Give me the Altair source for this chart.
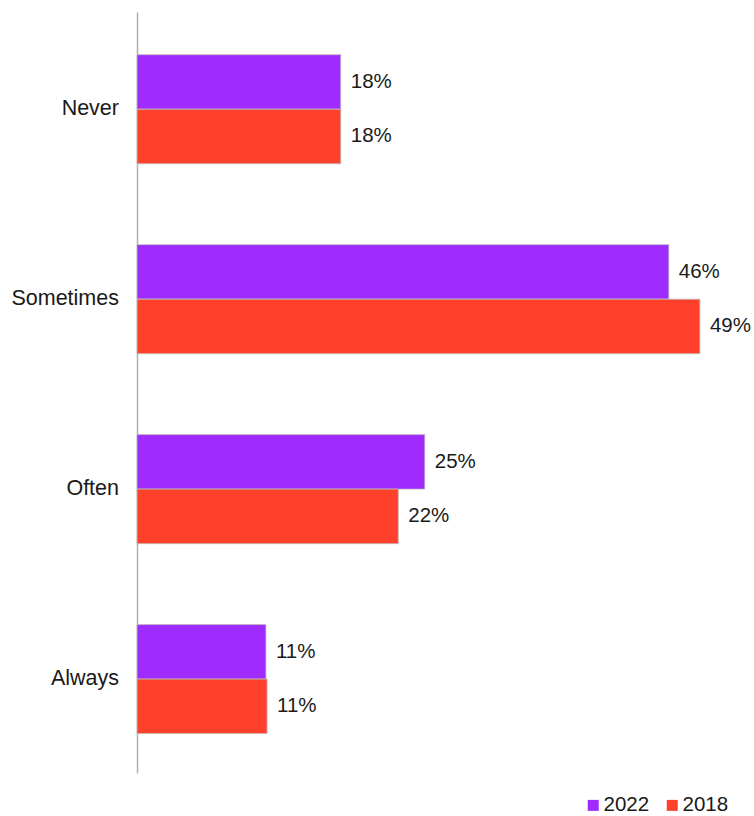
import altair as alt
import pandas as pd

categories = ["Never", "Sometimes", "Often", "Always"]
years = ["2022", "2018"]
values_2022 = [17.7, 46.2, 25.0, 11.2]
values_2018 = [17.7, 48.9, 22.7, 11.3]
labels_2022 = ["18%", "46%", "25%", "11%"]
labels_2018 = ["18%", "49%", "22%", "11%"]
colors = ["#A02BFF", "#FF412C"]

rows = []
for c, v, l in zip(categories, values_2022, labels_2022):
    rows.append({"category": c, "year": "2022", "value": v, "label": l})
for c, v, l in zip(categories, values_2018, labels_2018):
    rows.append({"category": c, "year": "2018", "value": v, "label": l})
df = pd.DataFrame(rows)

FONT = "Liberation Sans"

y_enc = alt.Y(
    "category:N",
    sort=categories,
    title=None,
    scale=alt.Scale(paddingInner=0.426, paddingOuter=0.216, align=0.52),
    axis=alt.Axis(
        ticks=False,
        grid=False,
        domainColor="#B0B0B0",
        domainWidth=1.5,
        labelFont=FONT,
        labelFontSize=21.5,
        labelColor="#1a1a1a",
        labelPadding=18.5,
    ),
)
yoff = alt.YOffset("year:N", sort=years, scale=alt.Scale(domain=years, paddingInner=0, paddingOuter=0))
x_enc = alt.X("value:Q", title=None, scale=alt.Scale(domain=[0, 53.6], nice=False, zero=True), axis=None)

bars = alt.Chart(df).mark_bar(stroke="#BBBBBB", strokeWidth=0.8).encode(
    x=x_enc,
    y=y_enc,
    yOffset=yoff,
    color=alt.Color(
        "year:N",
        sort=years,
        scale=alt.Scale(domain=years, range=colors),
        legend=alt.Legend(
            title=None,
            orient="none",
            direction="horizontal",
            legendX=446,
            legendY=783,
            symbolType="square",
            symbolSize=121,
            symbolStrokeWidth=0,
            labelFont=FONT,
            labelFontSize=20.5,
            labelColor="#1a1a1a",
            labelOffset=0,
            columnPadding=12,
            padding=0,
            symbolOffset=0,
        ),
    ),
)

text = alt.Chart(df).mark_text(
    align="left", baseline="middle", dx=10, font=FONT, fontSize=20.5, color="#1a1a1a"
).encode(
    x=x_enc,
    y=alt.Y("category:N", sort=categories),
    yOffset=yoff,
    text="label:N",
)

chart = alt.layer(bars, text).properties(
    width=617,
    height=761,
    background="white",
    autosize=alt.AutoSizeParams(type="none"),
    padding={"left": 137, "top": 12, "right": 0, "bottom": 43},
).configure_view(stroke=None)

chart.save("out.html", embed_options={"renderer": "svg", "actions": False})
